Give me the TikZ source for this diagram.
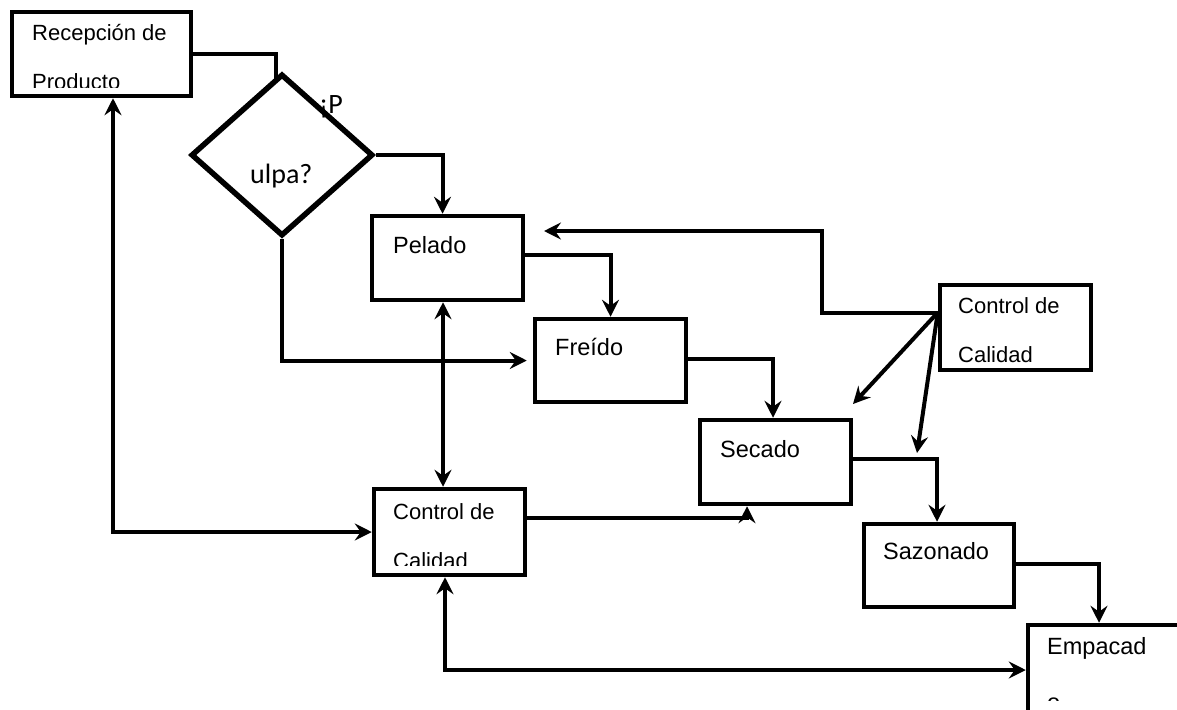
\documentclass[tikz,border=0pt]{standalone}
\usepackage{fontspec}
\setmainfont{Liberation Sans}
\newfontfamily\carlito{Carlito}
\usetikzlibrary{arrows.meta,shapes.geometric}

\begin{document}
\begin{tikzpicture}[x=1pt,y=-1pt,
  box/.style={draw, line width=4.5pt, rectangle, inner sep=0pt},
  link/.style={line width=4pt},
  flow/.style={line width=4pt, -{Stealth[length=17pt,width=17pt,inset=6pt]}},
  both/.style={line width=4pt,
    {Stealth[length=17pt,width=17pt,inset=6pt]}-{Stealth[length=17pt,width=17pt,inset=6pt]}},
  lbl/.style={anchor=base west, inner sep=0pt, align=left,
    font=\fontsize{23.5}{49}\selectfont},
  lblsm/.style={lbl, font=\fontsize{22}{49}\selectfont},
]
\clip (0,0) rectangle (1177,709);
\fill[white] (0,0) rectangle (1177,709);

% process boxes
\node[box, minimum width=179, minimum height=84] (rec) at (101.5,54) {};
\node[box, minimum width=151, minimum height=84] (pel) at (447.5,258) {};
\node[box, minimum width=151, minimum height=83] (fre) at (610.5,360.5) {};
\node[box, minimum width=151, minimum height=84] (sec) at (775.5,462) {};
\node[box, minimum width=150, minimum height=83] (saz) at (939,565.5) {};
\node[box, minimum width=200, minimum height=94] (emp) at (1128,672) {};
\node[box, minimum width=151, minimum height=86] (cal1) at (449.5,532) {};
\node[box, minimum width=151, minimum height=85] (cal2) at (1015.5,327.5) {};
\node[draw, diamond, line width=5.5pt, inner sep=0pt,
      minimum width=182, minimum height=162] (dia) at (282,155) {};

% labels (two-line labels are anchored on their last baseline)
\begin{scope}
  \clip (12,12) rectangle (191,87.5);
  \node[lblsm] (rec-t) at (32,89) {Recepción de\\Producto};
\end{scope}
\node[lbl, font=\carlito\fontsize{28}{34}\selectfont] (dia-t1) at (319,113) {¡P};
\node[lbl, font=\carlito\fontsize{28}{34}\selectfont] (dia-t2) at (250,183) {ulpa?};
\node[lbl] (pel-t) at (393,253) {Pelado};
\node[lbl] (fre-t) at (555,355) {Freído};
\node[lbl] (sec-t) at (720,457) {Secado};
\node[lbl] (saz-t) at (883,559) {Sazonado};
\begin{scope}
  \clip (1028,625) rectangle (1177,700.5);
  \node[lbl, font=\fontsize{23.5}{56}\selectfont] (emp-t) at (1047,710) {Empacad\\o};
\end{scope}
\begin{scope}
  \clip (374,489) rectangle (525,565);
  \node[lblsm] (cal1-t) at (393,568) {Control de\\Calidad};
\end{scope}
\node[lblsm] (cal2-t) at (958,362) {Control de\\Calidad};

% helper points
\coordinate (j1) at (276,79);
\coordinate (xl) at (113,0);
\coordinate (xv) at (443,0);
\coordinate (xb) at (445,0);
\coordinate (k1) at (822,231);
\coordinate (fb) at (544,231);
\coordinate (cq) at ([yshift=15]cal2.west);
\coordinate (d1) at (853,404);
\coordinate (d2) at (917,453);

% connectors
\draw[link] (rec.east) -| (j1);
\draw[flow] (dia.east) -| ([xshift=-5]pel.north);
\draw[flow] ([yshift=3]pel.east) -| (fre.north);
\draw[flow, shorten >=6pt] (dia.south) |- (fre.west);
\draw[flow] ([yshift=1.5]fre.east) -| ([xshift=-2.5]sec.north);
\draw[flow] ([yshift=3]sec.east) -| ([xshift=-2]saz.north);
\draw[flow] ([yshift=1.5]saz.east) -| ([xshift=-29]emp.north);
\draw[both] (pel.south -| xv) -- (cal1.north -| xv);
\draw[both] (rec.south -| xl) |- (cal1.west);
\draw[flow] ([yshift=14]cal1.east) -| ([xshift=-28.5]sec.south);
\draw[both] (cal1.south -| xb) |- ([yshift=2]emp.west);
\draw[flow] (cq) -| (k1) -- (fb);
\draw[flow] (cq) -- (d1);
\draw[flow] (cq) -- (d2);
\end{tikzpicture}
\end{document}
